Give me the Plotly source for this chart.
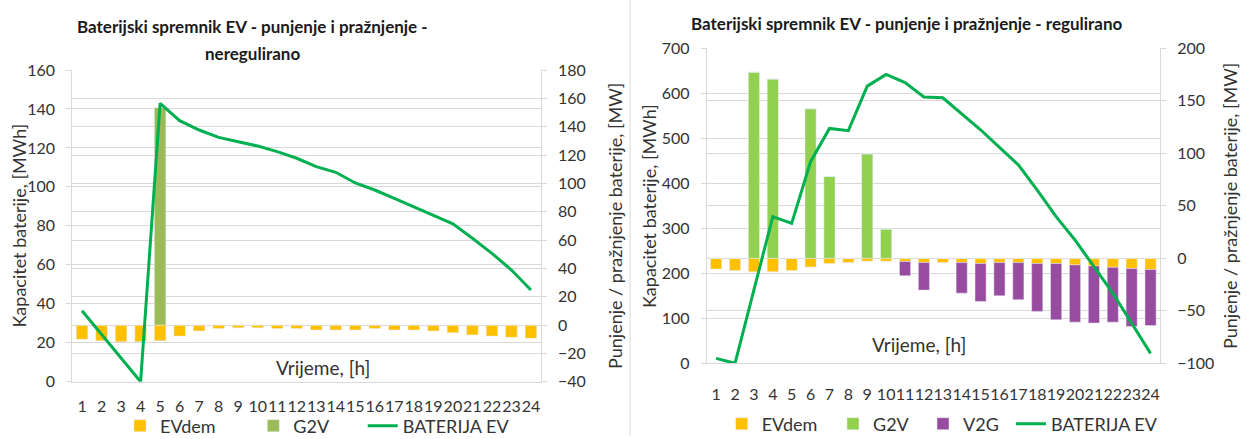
import plotly.graph_objects as go

W, H = 1247, 439

hours = list(range(1, 25))
hour_labels = [str(h) for h in hours]

# --- left chart: unregulated charging ---
evdem_unreg = [-10.1, -11.1, -11.8, -11.8, -11.1, -7.8, -4.2, -2.4, -2.0, -2.0, -2.5, -2.5,
               -3.5, -3.5, -3.5, -2.5, -3.5, -3.5, -4.2, -5.4, -7.0, -7.8, -8.7, -9.4]
g2v_unreg = [0, 0, 0, 0, 153.4, 0, 0, 0, 0, 0, 0, 0,
             0, 0, 0, 0, 0, 0, 0, 0, 0, 0, 0, 0]
battery_unreg = [36.4, 24.3, 12.1, 0.0, 142.9, 134.0, 129.2, 125.4, 123.2, 121.0, 118.1, 114.7,
                 110.4, 107.5, 102.0, 98.4, 94.1, 89.8, 85.6, 81.0, 73.6, 65.9, 57.3, 47.1]

# --- right chart: regulated charging ---
evdem_reg = [-10.3, -11.6, -12.9, -12.9, -11.6, -8.4, -5.0, -4.0, -2.7, -2.7, -3.0, -4.0,
             -4.0, -4.1, -5.0, -4.1, -4.1, -5.0, -5.0, -6.3, -7.3, -8.6, -9.8, -10.7]
g2v_reg = [0, 0, 177.3, 170.7, 0, 142.4, 77.9, 0, 99.5, 27.8, 0, 0,
           0, 0, 0, 0, 0, 0, 0, 0, 0, 0, 0, 0]
v2g_reg = [0, 0, 0, 0, 0, 0, 0, 0, 0, 0, -13.7, -26.3,
           0, -29.1, -36.1, -31.6, -35.4, -45.6, -53.6, -54.5, -54.4, -52.2, -55.2, -53.3]
battery_reg = [11, 0, 163, 326, 311, 448, 522, 517, 616, 642, 624, 592,
               590, 554, 519, 480, 441, 385, 326, 274, 215, 156, 89, 22]

C_EVDEM = "#FFC000"
C_G2V_L = "#9BBB59"
C_G2V_R = "#92D050"
C_V2G = "#984C9F"
C_LINE = "#00B050"
GRID = "#d9d9d9"
TXT = "#333333"
FONT = "Lato"


def px(x):
    return x / W


def py(y):
    return 1 - y / H


fig = go.Figure()

# left chart traces (bars on the MW axis, battery line on the MWh axis)
fig.add_bar(x=hours, y=evdem_unreg, name="EVdem", marker_color=C_EVDEM,
            xaxis="x", yaxis="y", legend="legend")
fig.add_bar(x=hours, y=g2v_unreg, name="G2V", marker_color=C_G2V_L,
            xaxis="x", yaxis="y", legend="legend2")
fig.add_scatter(x=hours, y=battery_unreg, name="BATERIJA EV", mode="lines",
                line=dict(color=C_LINE, width=3), xaxis="x", yaxis="y2", legend="legend3")

# right chart traces
fig.add_bar(x=hours, y=evdem_reg, name="EVdem", marker_color=C_EVDEM,
            xaxis="x2", yaxis="y3", legend="legend4")
fig.add_bar(x=hours, y=g2v_reg, name="G2V", marker_color=C_G2V_R,
            xaxis="x2", yaxis="y3", legend="legend5")
fig.add_bar(x=hours, y=v2g_reg, name="V2G", marker_color=C_V2G,
            xaxis="x2", yaxis="y3", legend="legend6")
fig.add_scatter(x=hours, y=battery_reg, name="BATERIJA EV", mode="lines",
                line=dict(color=C_LINE, width=3), xaxis="x2", yaxis="y4", legend="legend7")

tickfont = dict(family=FONT, size=16, color=TXT)

xcommon = dict(range=[0.5, 24.5], tickvals=hours, ticktext=hour_labels, tickfont=tickfont,
               tickangle=0, showgrid=False, zeroline=False, showline=True, linecolor=GRID,
               ticks="", fixedrange=True)
ycommon = dict(tickfont=tickfont, showgrid=True, gridcolor=GRID, gridwidth=1, zeroline=False,
               showline=True, linecolor=GRID, ticks="outside", ticklen=5, tickcolor=GRID,
               ticklabelstandoff=8)

L_X0, L_X1, L_Y0, L_Y1 = 72.3, 540.7, 70.0, 381.7
R_X0, R_X1, R_Y0, R_Y1 = 706.7, 1160.0, 48.3, 363.3

legend_common = dict(orientation="h", font=dict(family=FONT, size=18, color=TXT),
                     bgcolor="rgba(0,0,0,0)", borderwidth=0, xanchor="left", yanchor="middle",
                     itemclick=False, itemdoubleclick=False)


def leg(x_text, y_mid):
    d = dict(legend_common)
    d.update(x=px(x_text - 40), y=py(y_mid))
    return d


fig.update_layout(
    width=W, height=H,
    margin=dict(l=0, r=0, t=0, b=0, autoexpand=False),
    paper_bgcolor="white", plot_bgcolor="white",
    barmode="relative", bargap=0.41,
    xaxis=dict(xcommon, domain=[px(L_X0), px(L_X1)], anchor="y", ticklabelstandoff=10),
    yaxis=dict(ycommon, domain=[py(L_Y1), py(L_Y0)], anchor="x", side="right",
               range=[-40, 180], dtick=20),
    yaxis2=dict(ycommon, overlaying="y", anchor="x", side="left", range=[0, 160], dtick=20),
    xaxis2=dict(xcommon, domain=[px(R_X0), px(R_X1)], anchor="y3", ticklabelstandoff=16),
    yaxis3=dict(ycommon, domain=[py(R_Y1), py(R_Y0)], anchor="x2", side="right",
                range=[-100, 200], dtick=50),
    yaxis4=dict(ycommon, overlaying="y3", anchor="x2", side="left", range=[0, 700], dtick=100),
    legend=leg(160, 426),
    legend2=leg(293.3, 426),
    legend3=leg(402.7, 426),
    legend4=leg(761.7, 424),
    legend5=leg(873, 424),
    legend6=leg(963, 424),
    legend7=leg(1051, 424),
    showlegend=True,
)

annotations = []


def text(x, y, s, size=18, bold=False, angle=0):
    annotations.append(dict(
        x=px(x), y=py(y), xref="paper", yref="paper", text=f"<b>{s}</b>" if bold else s,
        showarrow=False, xanchor="center", yanchor="middle", textangle=angle,
        font=dict(family=FONT, size=size, color="#1a1a1a" if bold else TXT)))


# chart titles
text(252, 26, "Baterijski spremnik EV - punjenje i pražnjenje -", size=17, bold=True)
text(252, 54, "neregulirano", size=17, bold=True)
text(907, 23, "Baterijski spremnik EV - punjenje i pražnjenje - regulirano", size=17, bold=True)

# axis titles
text(18.5, 226, "Kapacitet baterije, [MWh]", angle=-90)
text(615, 226, "Punjenje / pražnjenje baterije, [MW]", angle=-90)
text(649, 206, "Kapacitet baterije, [MWh]", angle=-90)
text(1230, 206, "Punjenje / pražnjenje baterije, [MW]", angle=-90)
text(322.5, 367, "Vrijeme, [h]", size=19)
text(919, 344, "Vrijeme, [h]", size=19)

fig.update_layout(annotations=annotations)

# divider between the two charts
fig.add_shape(type="line", xref="paper", yref="paper", x0=px(630), x1=px(630),
              y0=py(436), y1=1, line=dict(color=GRID, width=1))

fig.write_html("out.html")
